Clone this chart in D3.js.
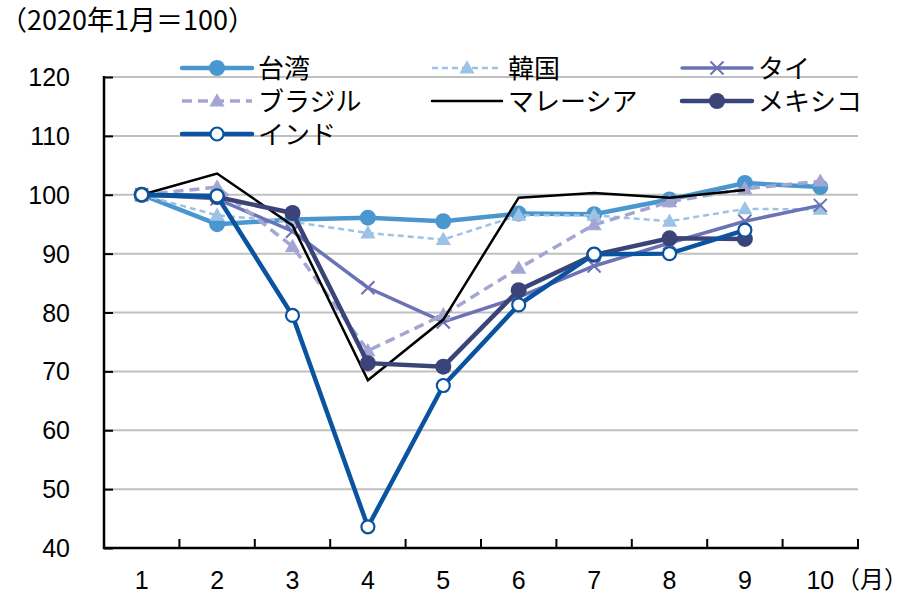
<!DOCTYPE html>
<html>
<head>
<meta charset="utf-8">
<script src="https://cdn.jsdelivr.net/npm/d3@7/dist/d3.min.js"></script>
<style>
  html, body { margin: 0; padding: 0; background: #fff; }
  svg { display: block; }
  text { font-family: "Liberation Sans", Arial, "Noto Sans CJK JP", sans-serif; fill: #000; }
  .jp { font-family: "Noto Sans CJK JP", "Liberation Sans", sans-serif; }
</style>
</head>
<body>
<svg id="chart" width="908" height="595"></svg>
<script>
// Monthly index, January 2020 = 100
const months = [1, 2, 3, 4, 5, 6, 7, 8, 9, 10];
const yTicks = [40, 50, 60, 70, 80, 90, 100, 110, 120];

const taiwan   = [100, 95.0, 95.8, 96.1, 95.5, 96.8, 96.7, 99.2, 102.0, 101.3];
const korea    = [100, 96.5, 95.4, 93.5, 92.4, 96.5, 96.5, 95.5, 97.6, 97.5];
const thailand = [100, 99.3, 93.8, 84.2, 78.4, 82.6, 87.9, 91.8, 95.5, 98.2];
const brazil   = [100, 101.3, 91.2, 73.5, 79.6, 87.5, 94.9, 98.8, 101.0, 102.3];
const malaysia = [100, 103.6, 94.8, 68.5, 78.8, 99.5, 100.3, 99.5, 100.8, null];
const mexico   = [100, 99.6, 96.9, 71.4, 70.8, 83.8, 89.8, 92.6, 92.5, null];
const india    = [100, 99.8, 79.5, 43.6, 67.6, 81.3, 89.9, 90.0, 94.0, null];

const seriesNames = ["台湾", "韓国", "タイ", "ブラジル", "マレーシア", "メキシコ", "インド"];

const series = [
  { name: seriesNames[0], values: taiwan,   color: "#4a97cf", width: 4.5, dash: null,    marker: "dot" },
  { name: seriesNames[1], values: korea,    color: "#9cc3e5", width: 2.5, dash: "6,4",   marker: "tri" },
  { name: seriesNames[2], values: thailand, color: "#6b73b5", width: 3.5, dash: null,    marker: "x" },
  { name: seriesNames[3], values: brazil,   color: "#a3a6d3", width: 3.5, dash: "10,6",  marker: "tri" },
  { name: seriesNames[4], values: malaysia, color: "#000000", width: 2.5, dash: null,    marker: null },
  { name: seriesNames[5], values: mexico,   color: "#3a4479", width: 4.5, dash: null,    marker: "dot" },
  { name: seriesNames[6], values: india,    color: "#0a53a0", width: 4.5, dash: null,    marker: "open" }
];

const svg = d3.select("#chart");
const plot = { left: 104, right: 858, top: 77, bottom: 548 };

const x = d3.scaleBand().domain(months).range([plot.left, plot.right]);
const y = d3.scaleLinear().domain([40, 120]).range([plot.bottom, plot.top]);
const cx = m => x(m) + x.bandwidth() / 2;

// Horizontal gridlines
svg.append("g").selectAll("line")
  .data(yTicks.filter(t => t > 40))
  .join("line")
  .attr("x1", plot.left).attr("x2", plot.right)
  .attr("y1", d => y(d)).attr("y2", d => y(d))
  .attr("stroke", "#c0c0c0").attr("stroke-width", 2);

// Y axis: ticks point inward
const yAxis = svg.append("g")
  .attr("transform", `translate(${plot.left},0)`)
  .call(d3.axisRight(y).tickValues(yTicks).tickSize(9).tickFormat(""));
yAxis.select(".domain").remove();
yAxis.selectAll(".tick line").attr("stroke", "#000").attr("stroke-width", 2);
svg.append("line")
  .attr("x1", plot.left).attr("x2", plot.left)
  .attr("y1", plot.top - 1).attr("y2", plot.bottom + 1)
  .attr("stroke", "#000").attr("stroke-width", 2.5);

svg.append("g").selectAll("text")
  .data(yTicks)
  .join("text")
  .attr("x", 70).attr("y", d => y(d) + 9)
  .attr("text-anchor", "end")
  .attr("font-size", 25)
  .text(d => d);

// X axis: tick marks at category boundaries, pointing up
const boundaries = d3.range(1, months.length + 1).map(i => plot.left + i * x.bandwidth());
svg.append("g").selectAll("line")
  .data(boundaries)
  .join("line")
  .attr("x1", d => d).attr("x2", d => d)
  .attr("y1", plot.bottom).attr("y2", plot.bottom - 9)
  .attr("stroke", "#000").attr("stroke-width", 2);
svg.append("line")
  .attr("x1", plot.left - 1).attr("x2", plot.right + 1)
  .attr("y1", plot.bottom).attr("y2", plot.bottom)
  .attr("stroke", "#000").attr("stroke-width", 2.5);

svg.append("g").selectAll("text")
  .data(months)
  .join("text")
  .attr("x", d => cx(d)).attr("y", 589)
  .attr("text-anchor", "middle")
  .attr("font-size", 25)
  .text(d => d);

svg.append("text").attr("class", "jp")
  .attr("x", 836).attr("y", 588)
  .attr("font-size", 24)
  .text("（月）");

svg.append("text").attr("class", "jp")
  .attr("x", 0).attr("y", 30)
  .attr("font-size", 27)
  .text("（2020年1月＝100）");

// Marker drawing
function drawMarker(g, type, px, py, color) {
  if (type === "dot") {
    g.append("circle").attr("cx", px).attr("cy", py).attr("r", 8).attr("fill", color);
  } else if (type === "open") {
    g.append("circle").attr("cx", px).attr("cy", py).attr("r", 6.5)
      .attr("fill", "#fff").attr("stroke", color).attr("stroke-width", 2.2);
  } else if (type === "tri") {
    g.append("path")
      .attr("d", d3.symbol().type(d3.symbolTriangle).size(100)())
      .attr("transform", `translate(${px},${py + 1})`)
      .attr("fill", color);
  } else if (type === "x") {
    const s = 6.5;
    g.append("path")
      .attr("d", `M${px - s},${py - s}L${px + s},${py + s}M${px - s},${py + s}L${px + s},${py - s}`)
      .attr("stroke", color).attr("stroke-width", 2).attr("fill", "none");
  }
}

// Series lines and markers
const line = d3.line()
  .defined(d => d.v != null)
  .x(d => cx(d.m))
  .y(d => y(d.v));

series.forEach(s => {
  const pts = months.map((m, i) => ({ m, v: s.values[i] }));
  const g = svg.append("g");
  g.append("path")
    .datum(pts)
    .attr("d", line)
    .attr("fill", "none")
    .attr("stroke", s.color)
    .attr("stroke-width", s.width)
    .attr("stroke-linejoin", "miter")
    .attr("stroke-dasharray", s.dash);
  if (s.marker) {
    pts.filter(p => p.v != null).forEach(p => drawMarker(g, s.marker, cx(p.m), y(p.v), s.color));
  }
});

// Legend
const legendCols = [182, 432, 682];
const legendRows = [68, 101, 134];
const legend = svg.append("g");
series.forEach((s, i) => {
  const lx = legendCols[i % 3];
  const ly = legendRows[Math.floor(i / 3)];
  const g = legend.append("g");
  g.append("line")
    .attr("x1", lx).attr("x2", lx + 70)
    .attr("y1", ly).attr("y2", ly)
    .attr("stroke", s.color)
    .attr("stroke-width", s.width)
    .attr("stroke-linecap", s.dash ? "butt" : "round")
    .attr("stroke-dasharray", s.dash);
  if (s.marker) drawMarker(g, s.marker, lx + 35, ly, s.color);
  g.append("text").attr("class", "jp")
    .attr("x", lx + 76).attr("y", ly + 10)
    .attr("font-size", 26)
    .text(s.name);
});
</script>
</body>
</html>
